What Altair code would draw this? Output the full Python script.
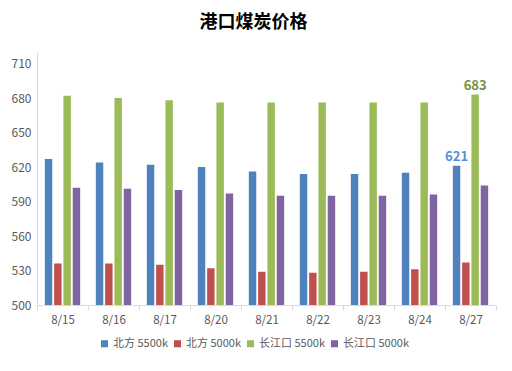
import altair as alt
import pandas as pd

dates = ["8/15", "8/16", "8/17", "8/20", "8/21", "8/22", "8/23", "8/24", "8/27"]
series = ["北方 5500k", "北方 5000k", "长江口 5500k", "长江口 5000k"]
north_5500 = [627, 624, 622, 620, 616, 614, 614, 615, 621]
north_5000 = [536, 536, 535, 532, 529, 528, 529, 531, 537]
cj_5500 = [682, 680, 678, 676, 676, 676, 676, 676, 683]
cj_5000 = [602, 601, 600, 597, 595, 595, 595, 596, 604]
bar_colors = ["#4f81bd", "#c0504d", "#9bbb59", "#8064a2"]
y_ticks = [500, 530, 560, 590, 620, 650, 680, 710]
label_dates = ["8/27", "8/27"]
label_series = ["北方 5500k", "长江口 5500k"]
label_colors = ["#558ed5", "#77933c"]

values = [north_5500, north_5000, cj_5500, cj_5000]
rows = []
for s, vals in zip(series, values):
    for d, v in zip(dates, vals):
        rows.append({"date": d, "series": s, "value": v})
df = pd.DataFrame(rows)

lab_rows = []
for d, s, c in zip(label_dates, label_series, label_colors):
    v = values[series.index(s)][dates.index(d)]
    lab_rows.append({"date": d, "series": s, "value": v, "lc": c})
ldf = pd.DataFrame(lab_rows)

FONT = "Noto Sans CJK SC"

x_enc = alt.X(
    "date:N",
    sort=dates,
    title=None,
    scale=alt.Scale(paddingInner=0, paddingOuter=0),
    axis=alt.Axis(
        tickBand="extent",
        labelAngle=0,
        labelFontSize=11.5,
        labelColor="#595959",
        labelFont=FONT,
        domainColor="#d9d9d9",
        tickColor="#d9d9d9",
        tickSize=5,
        labelPadding=4,
        grid=False,
    ),
)
xo_enc = alt.XOffset(
    "series:N", sort=series, scale=alt.Scale(paddingInner=0.2, paddingOuter=0.84)
)
y_enc = alt.Y(
    "value:Q",
    title=None,
    scale=alt.Scale(domain=[500, 720], zero=False, nice=False),
    axis=alt.Axis(
        values=y_ticks,
        ticks=False,
        grid=False,
        labelOverlap=False,
        labelFontSize=12,
        labelColor="#595959",
        labelFont=FONT,
        domainColor="#d9d9d9",
        labelPadding=6,
    ),
)

bars = alt.Chart(df).mark_bar(clip=True).encode(
    x=x_enc,
    xOffset=xo_enc,
    y=y_enc,
    color=alt.Color(
        "series:N",
        sort=series,
        scale=alt.Scale(domain=series, range=bar_colors),
        legend=alt.Legend(
            title=None,
            orient="none",
            direction="horizontal",
            legendX=62,
            legendY=286,
            symbolType="square",
            symbolSize=50,
            symbolStrokeWidth=0,
            labelFontSize=11,
            labelColor="#595959",
            labelFont=FONT,
            columnPadding=4,
            labelOffset=3,
        ),
    ),
)

labels = alt.Chart(ldf).mark_text(
    baseline="bottom", dy=-2, fontSize=13, fontWeight="bold", font=FONT
).encode(
    x=x_enc,
    xOffset=xo_enc,
    y=y_enc,
    text=alt.Text("value:Q"),
    color=alt.Color("lc:N", scale=None),
)

chart = (
    alt.layer(bars, labels)
    .properties(
        width=459,
        height=253,
        background="white",
        autosize=alt.AutoSizeParams(type="none"),
        padding={"left": 29, "top": 44, "right": 8, "bottom": 50},
        title=alt.TitleParams(
            "港口煤炭价格",
            fontSize=18,
            fontWeight="bold",
            font=FONT,
            color="#000000",
            anchor="middle",
            dx=-13,
            offset=20,
        ),
    )
    .configure_view(stroke=None, strokeWidth=0)
    .configure_axis(labelOverlap=False, grid=False)
)

chart.save("out.html", embed_options={"renderer": "svg", "actions": False})
